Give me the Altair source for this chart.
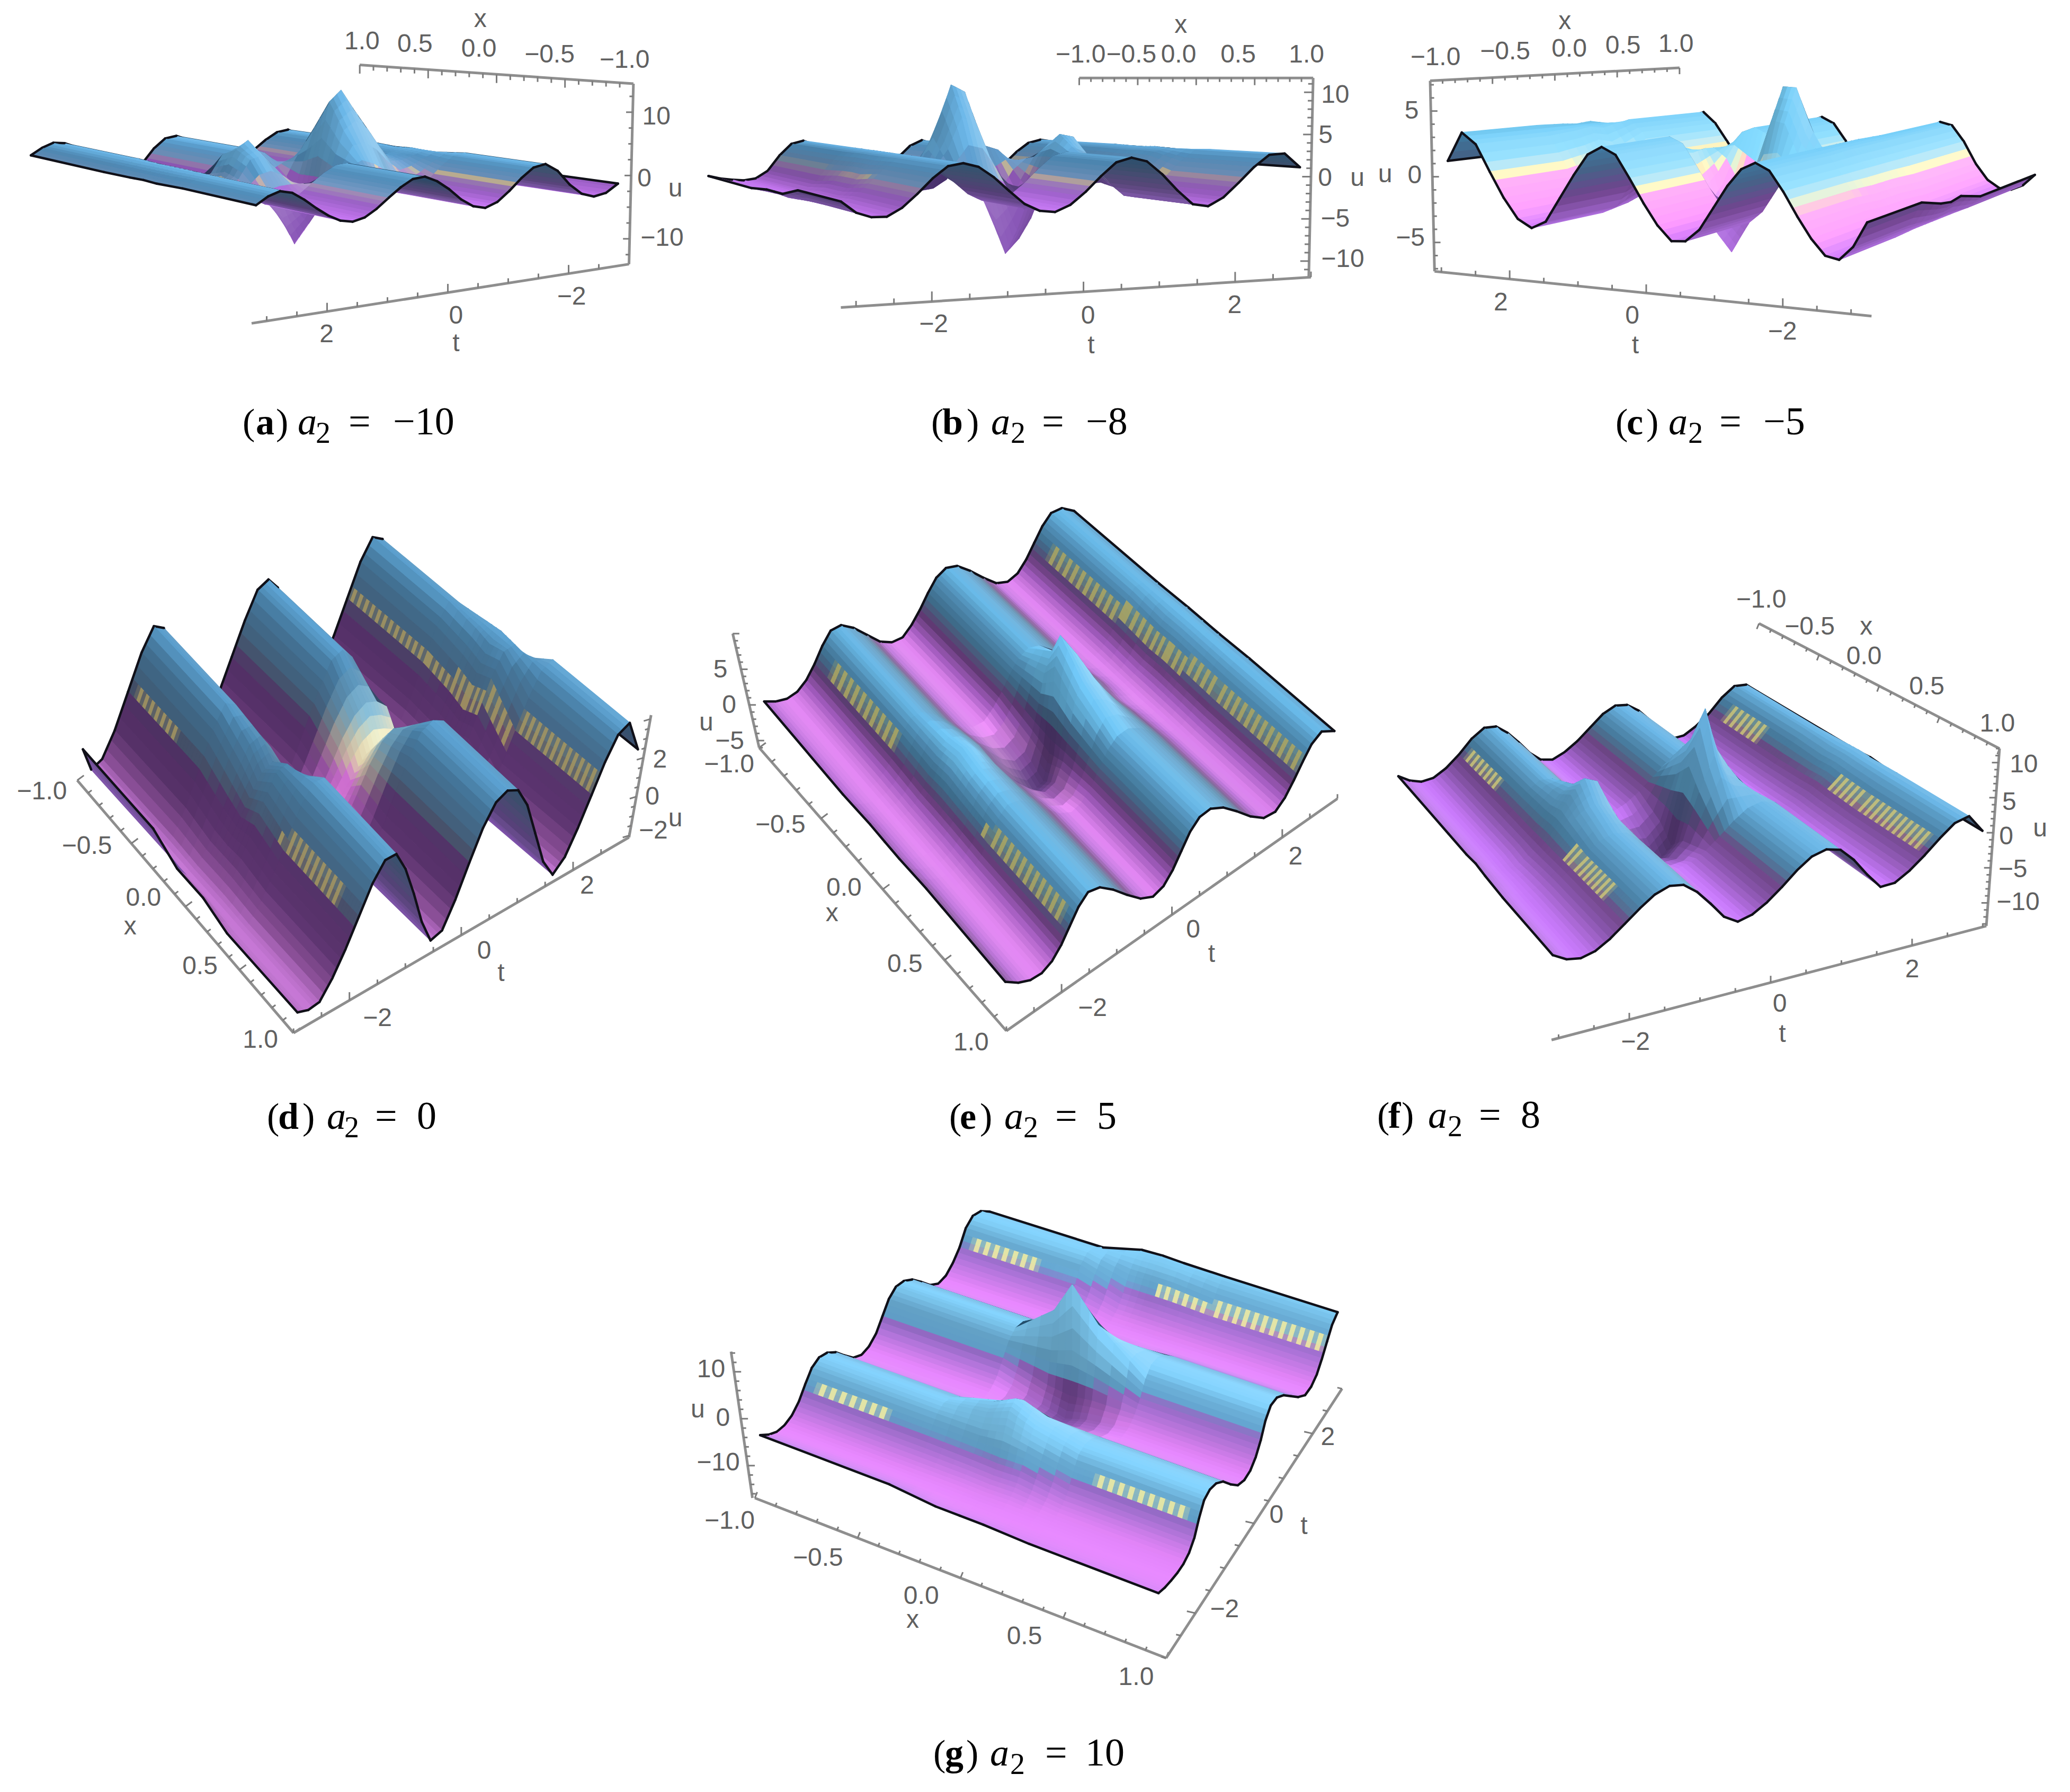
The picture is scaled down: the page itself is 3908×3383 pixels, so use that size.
import math

import altair as alt
import pandas as pd

# surface heights u(t), at t = -3.0, -2.8 ... 3.0
T = [round(-3 + 0.2 * i, 1) for i in range(31)]

a_neg = [-1.5,-2.9,-3.3,-2.6,-.8,1.8,3.2,2.8,1.2,-.8,-2.5,-3.3,-2.8,-1.4,.6,2.2,3.2,3,1.8,.2,-1.5,-2.8,-3.3,-2.9,-1.8,-.3,1.4,2.8,3.3,2.6,1.3]
a_mid = [-1.3,-2.6,-3.2,-2.8,-1.4,.6,2.6,3,2.4,1.6,1.6,4.6,8,9.6,8,1.6,-5.6,-8.6,-6,-1.2,2.4,4.6,4,.6,-1,-.2,1.4,2.9,3.3,2.4,1.1]
a_zero = [-1.2,-2.5,-3.2,-2.9,-1.6,.6,2.6,3.2,2.6,2.4,2.8,6,11.5,15,13,3,-8,-13,-8,-1,4.5,7,5.5,1.5,-.8,-.3,1.4,2.9,3.3,2.4,1.2]
a_pos = [-1,-2.2,-3,-3.2,-2.5,-.6,2,3.3,2.9,1.5,-.3,-2,-3.2,-2.9,-1.5,.6,2.4,3.3,2.9,1,-1.8,-3.2,-3,-2,-.6,.8,2.2,3.1,3.3,2.4,1]

b_neg = [-2.4,-2.8,-3,-3.1,-2.8,-1.6,.8,2.6,3.1,2.4,1,-.8,-2.4,-3.1,-2.8,-1.6,.4,2.2,3.1,2.5,.8,-1.2,-2.8,-3.1,-2.2,-.6,1.2,2.6,3.1,2.8,1.6]
b_mid = [-2,-2.7,-3,-3,-2.4,-1,1,2.7,3.1,2.5,1.2,.8,3.4,7.6,7,2.4,-3,-7.4,-6,-1.4,1.8,3.4,2.6,-.4,-2,-1.1,1,2.5,3,2.8,1.4]
b_zero = [-2,-2.8,-3.1,-3,-2.4,-1,1.1,2.7,3.1,2.4,1.5,1.5,6.5,12,11,5,-4,-11,-9,-3,2,5,4.6,1.5,-1.6,-.8,1.2,2.6,3.1,2.8,1.5]
b_pos = [-1,-2.4,-3,-3,-2,-.4,1.4,2.8,3.1,2.6,1.3,-.4,-2,-2.9,-3.1,-2.3,-.8,1,2.6,3.1,2.6,1,-1,-2.7,-3,-2,-.3,1.5,2.9,3,1.3]

c_neg = [-.3,-2.3,-3.4,-3.2,-2,-.4,1.4,2.9,3.4,2.8,1.4,-.4,-2.2,-3.2,-3.3,-2.2,-.6,1.2,2.9,3.4,2.7,1,-.9,-2.8,-3.4,-2.8,-1.3,.6,2.6,3.4,1.1]
c_mid = [-1,-2.5,-3.3,-3.2,-2.2,-.6,1.4,3,3.4,2.7,1.6,2.2,4.8,5,1.6,-1.4,-3.6,-5,-3.8,-.4,1.6,1.2,0,-1.8,-3,-2.4,-.8,1,2.8,3.3,1.2]
c_zero = [-1.2,-2.6,-3.3,-3.2,-2.2,-.6,1.4,3,3.4,2.8,2.2,4.8,7.8,7.8,4,-1,-5,-7,-5.6,-1.5,1.4,2,1.2,-1,-2.6,-2,-.4,1.4,3,3.2,1.3]
c_pos = [-1.7,-2.8,-3.3,-3.2,-2.4,-.8,1.4,3,3.3,2.5,1,-1,-2.9,-3.3,-2.6,-1,1,2.7,3.3,2.8,1.4,-.6,-2.4,-3.3,-2.8,-1.4,.4,2.2,3.3,2.8,1.4]

d_neg = [-1.8,-3,-2.7,-1.5,.2,1.9,3,2.7,1.4,-.2,-1.9,-2.9,-2.9,-1.8,-.2,1.4,2.7,3,2.4,.9,-.8,-2.4,-3,-2.5,-1.2,.4,2,3,2.7,1.4,-.2]
d_mid = [-2.4,-3,-2.8,-1.8,-.4,1.1,2.3,2.5,1.7,.2,-1.5,-2.7,-2.9,-2.2,-1,.3,1.2,1.6,1.4,.9,-.8,-2.4,-3,-2.6,-1.4,.1,1.7,2.8,2.9,2,.5]
d_zero = [-2.4,-3,-2.8,-1.8,-.6,.6,1.6,1.9,1.4,.2,-1.2,-2.4,-2.7,-2.4,-1.6,-.8,-.1,.2,0,-.2,-1,-2.4,-3,-2.6,-1.6,-.2,1.4,2.6,3,2.2,.6]
d_pos = [-2.8,-3,-2.9,-2,-.8,.6,2,2.9,2.9,1.8,.2,-1.6,-2.9,-2.7,-1.4,.2,1.7,2.7,3,2.7,1.6,-.2,-2,-3,-2.4,-1.2,.2,1.6,2.7,3,1.3]

e_neg = [-1.8,-2.6,-3,-2.8,-1.9,-.4,1.4,2.8,2.8,1.6,-.2,-2,-2.9,-3,-2,-.6,1,2.4,3,2.5,1,-.8,-2.4,-3,-2.6,-1.4,.2,1.8,2.9,2.8,1.6]
e_mid = [-1.4,-2.4,-3,-2.9,-2.2,-.9,1,2.8,3.6,2.8,1,-1.2,-3.2,-4.4,-4,-2,1,4.4,6.6,5,2.2,0,-1.8,-2.9,-2.8,-1.8,-.4,1.2,2.5,3,1.8]
e_zero = [-1.4,-2.4,-3,-2.9,-2.2,-.8,1.4,3.4,4.4,3.4,1,-2,-4.6,-6.4,-6,-3,2,7.5,11,7.4,3,-.4,-2.2,-3,-2.8,-1.7,-.2,1.4,2.6,3,1.8]
e_pos = [-1,-2.2,-2.9,-3,-2.4,-1.2,.4,2,3,2.6,1.2,-.6,-2.2,-3,-2.6,-1.4,.2,1.8,2.8,2.9,2,.4,-1.4,-2.7,-2.9,-2,-.6,.9,2.3,3,2]

f_neg = [-2,-3,-3.5,-3.2,-2,-.2,2,3.4,3.3,2,.2,-1.8,-3.2,-3.5,-2.6,-1.2,.6,2.4,3.4,3.2,2,.2,-1.9,-3.4,-3.2,-2,-.4,1.8,3.3,3.2,1.8]
f_mid = [-2,-3,-3.5,-3.2,-2,-.3,2.1,4.1,5.2,4.4,2,-1,-3.2,-4.8,-5,-3,3.6,8.4,5.4,4.2,2.4,.2,-2,-3.5,-3.1,-1.9,-.2,1.6,3.1,3.4,1.8]
f_zero = [-1.8,-3,-3.6,-3.4,-2.2,-.2,2.4,5.4,7.4,6.6,3,-.8,-3.6,-6,-7,-5,6,14,8,5,2,-.8,-2.8,-3.6,-3,-1.8,0,1.8,3.2,3.5,2]
f_pos = [-2.2,-3.2,-3.5,-3,-1.8,-.2,1.4,2.8,3.5,3.2,1.8,-.2,-2.4,-3.5,-3,-1.8,-.2,1.6,3,3.5,3,1.2,-1.2,-3.3,-3.2,-2,-.4,1.4,3,3.5,1.1]

g_neg = [-1,-2.4,-3.3,-3.4,-2.8,-1.4,.8,2.8,3.5,3,1.6,-.6,-2.6,-3.5,-3.2,-2,.2,2.4,3.5,3.2,2,0,-2.2,-3.4,-3.2,-2,-.2,2.4,3.5,3,1.4]
g_mid = [-2,-3,-3.4,-3.4,-2.8,-1.6,.6,3,5,5.6,4.2,1.8,-1,-3.2,-4.6,-4.8,-2.4,3.4,10.4,7.4,4.4,1.8,-.8,-2.6,-3.4,-3.5,-2.6,-.8,1.6,3.3,3.6]
g_zero = [-2,-3,-3.4,-3.5,-3,-1.8,.4,4,7,8,6,2.4,-1,-3.6,-5.6,-6.2,-3,5,17.5,11,5.4,2,-.6,-2.4,-3.4,-3.5,-2.6,-.8,1.6,3.4,3.8]
g_pos = [-2.4,-3,-3.3,-3.5,-3.4,-2.8,-1.4,1,3,3.5,3,1.6,-.8,-2.8,-3.5,-3.3,-2.2,-.4,2,3.4,3.3,2,0,-2,-3.4,-3.4,-2.6,-1,.8,2.6,3.5]

X_ROWS = [-1, -0.35, -0.12, 0, 0.12, 0.35, 1]

# colour ramps over normalised height (trough 0 .. crest 1): front and underside
DARK_BACK = [(0, "#8a58b8"), (.35, "#46306a"), (.7, "#2c3f60"), (1, "#24506e")]
BRIGHT_BACK = [(0, "#b070e0"), (.35, "#7a4a9a"), (.7, "#4a6a92"), (1, "#3f7ca4")]
RAMP_A = [(0, "#c878f4"), (.3, "#a868d8"), (.49, "#b098c8"), (.53, "#d8c8a8"), (.57, "#80a8d8"), (.85, "#5a9ed0"), (1, "#6cb8ea")]
RAMP_C = [(0, "#d880ff"), (.15, "#ff96ff"), (.47, "#ffa4f8"), (.51, "#fff0b0"), (.55, "#fffac0"), (.61, "#b8e8f4"), (.75, "#84dcff"), (1, "#78d0fa")]
RAMP_D = [(0, "#e48cf4"), (.12, "#9a58a8"), (.3, "#6a3c80"), (.48, "#643a7c"), (.56, "#55607e"), (.66, "#4e7496"), (.85, "#4c84ac"), (1, "#66b4e8")]
RAMP_D_CENTRE = [(0, "#ff90ff"), (.35, "#f080f0"), (.45, "#fff0c0"), (.55, "#fffbd0"), (.7, "#a0e0f8"), (1, "#80d0f8")]
RAMP_E = [(0, "#f494ff"), (.18, "#b868d8"), (.38, "#724488"), (.5, "#5c6a94"), (.62, "#4c86ac"), (.85, "#5ea6d4"), (1, "#70c8f8")]
RAMP_E_CENTRE = [(0, "#5c3a78"), (.5, "#5a3f80"), (.62, "#4c6a90"), (1, "#5aa0d0")]
RAMP_F = [(0, "#cc7cff"), (.3, "#9c62c4"), (.48, "#8a58a8"), (.56, "#6a84b0"), (.72, "#5a9cc8"), (1, "#6cb8e8")]
RAMP_F_CENTRE = [(0, "#5e3e80"), (.5, "#64448a"), (.62, "#4c7098"), (1, "#62acd8")]
RAMP_G = [(0, "#e888ff"), (.3, "#c080f0"), (.48, "#a87ae0"), (.58, "#70b8e8"), (.82, "#74bde8"), (1, "#84d4ff")]
RAMP_G_CENTRE = [(0, "#7a4a9c"), (.5, "#7c50a4"), (.62, "#4c7c9e"), (1, "#6cbce4")]

# zoom factors and crop origins used to read each panel, corners at u = 0 as
# (x=-1,t=-3), (x=-1,t=3), (x=1,t=-3), (x=1,t=3); px per unit of u on x=-1 and x=1
# bands: (t from, t to, x from, x to) where the yellow comb pattern shows
PANELS = [
    dict(rows=(a_neg, a_mid, a_zero, a_pos), view=(1.2, 1.835, 0, 0),
         corners=[(1400, 606), (580, 737), (830, 490), (70, 555)], k=(20, 17), lean=0,
         far_x=1, far_t=-3, ramp=RAMP_A, back=DARK_BACK, pit=False, bands=[], band_colour="#f0e090", band_h=(.53, .64)),
    dict(rows=(b_neg, b_mid, b_zero, b_pos), view=(1.2, 1.835, 1300, 0),
         corners=[(45, 557), (850, 552), (345, 669), (1385, 617)], k=(22, 29), lean=0,
         far_x=-1, far_t=3, ramp=RAMP_A, back=DARK_BACK, pit=False, bands=[], band_colour="#f0e090", band_h=(.53, .64)),
    dict(rows=(c_neg, c_mid, c_zero, c_pos), view=(1.2, 1.835, 2600, 0),
         corners=[(1110, 757), (160, 607), (1490, 548), (686, 497)], k=(45, 34), lean=0,
         far_x=1, far_t=3, ramp=RAMP_C, back=BRIGHT_BACK, pit=False, bands=[], band_colour="#fff0b0", band_h=(.53, .64)),
    dict(rows=(d_neg, d_mid, d_zero, d_pos), view=(1.2, 1.3, 0, 950),
         corners=[(195, 514), (903, 202), (685, 1118), (1440, 665)], k=(50, 47), lean=4,
         far_x=-1, far_t=3, ramp=RAMP_D, back=DARK_BACK, pit=False, centre=RAMP_D_CENTRE, centre_t=(-1.1, 1.1),
         bands=[(-2.7, -1.4, -.95, -.55), (-2.7, -1.4, .3, .85), (1.5, 2.8, -1, 1)], band_colour="#a89860", band_h=(.53, .64)),
    dict(rows=(e_neg, e_mid, e_zero, e_pos), view=(1.2, 1.3, 1300, 950),
         corners=[(165, 456), (879, 46), (714, 1157), (1470, 594)], k=(17, 17.5), lean=-3.5,
         far_x=-1, far_t=3, ramp=RAMP_E, back=DARK_BACK, pit=True, centre=RAMP_E_CENTRE, centre_t=(-.9, .3),
         bands=[(-2.6, -1.3, -.9, -.35), (-2.6, -1.3, .3, .95), (1.6, 2.9, -.9, 1)], band_colour="#b0a860", band_h=(.48, .72)),
    dict(rows=(f_neg, f_mid, f_zero, f_pos), view=(1.2, 1.418, 2600, 1050),
         corners=[(50, 555), (860, 393), (400, 1024), (1370, 757)], k=(17, 20), lean=1,
         far_x=-1, far_t=3, ramp=RAMP_F, back=DARK_BACK, pit=True, centre=RAMP_F_CENTRE, centre_t=(-.7, .2),
         bands=[(-2.6, -1.3, -.95, -.55), (-2.6, -1.3, .25, .75), (1.6, 2.8, -.9, -.55), (1.6, 2.8, .1, .95)], band_colour="#d0c878", band_h=(.48, .72)),
    dict(rows=(g_neg, g_mid, g_zero, g_pos), view=(1.114, 1.357, 1250, 2220),
         corners=[(205, 652), (690, 108), (1041, 1040), (1425, 391)], k=(12, 12), lean=-1.2,
         far_x=-1, far_t=3, ramp=RAMP_G, back=DARK_BACK, pit=True, centre=RAMP_G_CENTRE, centre_t=(-.7, .3),
         bands=[(-2.6, -1.2, -.95, -.55), (-2.6, -1.2, .45, .95), (1.7, 3, -.95, -.55), (1.7, 3, .05, 1)], band_colour="#f8f0a0", band_h=(.48, .72)),
]

# axis lines: (start, end, value at start, value at end, major, minor, tick vector)
AXES = [
    [((1435, 290), (815, 225), -1, 1, .5, .1, (0, 30)),
     ((570, 1120), (1425, 915), 3.25, -3, 2, .5, (0, -30)),
     ((1425, 915), (1435, 290), -14, 14.5, 10, 2.5, (-15, 0))],
    [((885, 270), (1415, 270), -1, 1, .5, .1, (0, 25)),
     ((345, 1065), (1410, 960), -3.2, 3, 2, .5, (0, -35)),
     ((1405, 960), (1415, 270), -11.9, 11.7, 5, 1, (-20, 0))],
    [((120, 280), (685, 235), -1, 1, .5, .1, (0, 22)),
     ((130, 940), (1120, 1095), 3.1, -3.3, 2, .5, (0, -30)),
     ((130, 940), (120, 280), -7.2, 7.3, 5, 1, (15, 0))],
    [((175, 680), (665, 1300), -1, 1, .5, .1, (15, -12)),
     ((665, 1300), (1425, 820), -3, 3, 2, .5, (0, -20)),
     ((1425, 820), (1475, 520), -2.1, 4.2, 2, .5, (-15, 5))],
    [((160, 600), (720, 1295), -1, 1, .5, .1, (15, -12)),
     ((720, 1295), (1470, 725), -3, 3, 2, .5, (0, -20)),
     ((160, 600), (100, 320), -6, 10, 5, 1, (15, 0))],
    [((865, 180), (1410, 515), -1, 1, .5, .1, (-5, 15)),
     ((395, 1295), (1380, 990), -3.1, 3.05, 2, .5, (0, -18)),
     ((1380, 990), (1410, 515), -13.3, 12, 5, 1, (-15, 0))],
    [((195, 825), (1060, 1235), -1, 1, .5, .1, (5, -15)),
     ((1060, 1235), (1430, 545), -3, 3, 2, .5, (-18, -5)),
     ((190, 825), (145, 450), -16.9, 14.3, 10, 2, (15, 0))],
]

LABELS = [
    [("1.0", 820, 145), ("0.5", 940, 155), ("0.0", 1085, 170), ("−0.5", 1245, 190), ("−1.0", 1415, 210), ("x", 1088, 68),
     ("2", 740, 1160), ("0", 1033, 1095), ("−2", 1295, 1030), ("t", 1033, 1190),
     ("10", 1487, 405), ("0", 1460, 620), ("−10", 1500, 825), ("u", 1530, 655)],
    [("−1.0", 888, 190), ("−0.5", 1003, 190), ("0.0", 1110, 190), ("0.5", 1245, 190), ("1.0", 1400, 190), ("x", 1115, 88),
     ("−2", 555, 1125), ("0", 905, 1095), ("2", 1237, 1058), ("t", 912, 1198),
     ("10", 1465, 330), ("5", 1443, 470), ("0", 1442, 618), ("−5", 1465, 760), ("−10", 1482, 900), ("u", 1515, 618)],
    [("−1.0", 132, 200), ("−0.5", 290, 180), ("0.0", 435, 170), ("0.5", 557, 160), ("1.0", 677, 155), ("x", 425, 75),
     ("2", 280, 1050), ("0", 578, 1095), ("−2", 918, 1150), ("t", 585, 1198),
     ("5", 78, 385), ("0", 85, 610), ("−5", 75, 825), ("u", 18, 605)],
    [("−1.0", 95, 708), ("−0.5", 197, 842), ("0.0", 325, 970), ("x", 295, 1040), ("0.5", 453, 1138), ("1.0", 590, 1318),
     ("−2", 855, 1265), ("0", 1097, 1100), ("t", 1135, 1155), ("2", 1330, 940),
     ("2", 1495, 630), ("0", 1478, 722), ("−2", 1480, 805), ("u", 1530, 775)],
    [("−1.0", 92, 642), ("−0.5", 208, 790), ("0.0", 352, 945), ("x", 325, 1008), ("0.5", 490, 1132), ("1.0", 640, 1325),
     ("−2", 915, 1240), ("0", 1143, 1048), ("t", 1185, 1108), ("2", 1375, 868),
     ("5", 72, 410), ("0", 92, 497), ("u", 40, 540), ("−5", 93, 585)],
    [("−1.0", 870, 118), ("−0.5", 980, 190), ("x", 1108, 190), ("0.0", 1103, 270), ("0.5", 1245, 350), ("1.0", 1405, 450),
     ("−2", 585, 1302), ("0", 912, 1200), ("t", 918, 1280), ("2", 1212, 1108),
     ("10", 1465, 558), ("5", 1432, 660), ("0", 1425, 752), ("u", 1502, 730), ("−5", 1440, 840), ("−10", 1452, 928)],
    [("−1.0", 142, 885), ("−0.5", 328, 980), ("0.0", 545, 1078), ("x", 527, 1138), ("0.5", 762, 1180), ("1.0", 997, 1285),
     ("−2", 1183, 1112), ("0", 1292, 870), ("t", 1350, 898), ("2", 1400, 670),
     ("10", 103, 497), ("u", 75, 600), ("0", 128, 622), ("−10", 118, 735)],
]

# caption pieces: letter, value, baseline and left edges of ( letter ) a 2 = value
CAPTIONS = [
    ("a", "−10", 820, (458, 483, 521, 562, 596, 658, 742)),
    ("b", "−8", 820, (1758, 1779, 1825, 1871, 1908, 1967, 2050)),
    ("c", "−5", 820, (3050, 3071, 3108, 3150, 3187, 3246, 3329)),
    ("d", "0", 2131, (504, 525, 571, 617, 650, 708, 787)),
    ("e", "5", 2131, (1792, 1812, 1850, 1896, 1932, 1992, 2071)),
    ("f", "8", 2129, (2600, 2621, 2646, 2696, 2733, 2792, 2871)),
    ("g", "10", 3333, (1762, 1784, 1824, 1869, 1907, 1973, 2049)),
]

SUB_T = 3
SUB_X = 3
COMB = .027


def to_rgb(h):
    return [int(h[i:i + 2], 16) for i in (1, 3, 5)]


def ramp_rgb(ramp, h):
    h = min(max(h, 0), 1)
    for (h0, c0), (h1, c1) in zip(ramp, ramp[1:]):
        if h <= h1:
            w = (h - h0) / (h1 - h0)
            return [a + (b - a) * w for a, b in zip(to_rgb(c0), to_rgb(c1))]
    return to_rgb(ramp[-1][1])


def mix(a, b, w):
    return [p + (q - p) * w for p, q in zip(a, b)]


def lit(rgb, light):
    if light > 0:
        return [v + (255 - v) * light for v in rgb]
    return [v * (1 + light) for v in rgb]


def to_hex(rgb):
    return "#%02x%02x%02x" % tuple(int(round(v)) for v in rgb)


def area2(p):
    return sum(p[i][0] * p[(i + 1) % 4][1] - p[(i + 1) % 4][0] * p[i][1] for i in range(4))


quad_rows, tick_rows, text_rows = [], [], []
shape_id = 0


def add_shape(points, colour, sw):
    global shape_id
    shape_id += 1
    for n, (px, py) in enumerate(points):
        quad_rows.append(dict(x=round(px, 1), y=round(py, 1), id=shape_id, n=n, c=colour, sw=sw))


for panel, axes, labels in zip(PANELS, AXES, LABELS):
    sx, sy, ox, oy = panel["view"]
    c00, c01, c10, c11 = panel["corners"]
    neg, mid, zero, pos = panel["rows"]
    by_row = [neg, neg, mid, zero, mid, pos, pos]
    ni, nj = len(X_ROWS), len(T)

    def base(x, t):
        a, b = (x + 1) / 2, (t + 3) / 6
        px = (1 - a) * ((1 - b) * c00[0] + b * c01[0]) + a * ((1 - b) * c10[0] + b * c11[0])
        py = (1 - a) * ((1 - b) * c00[1] + b * c01[1]) + a * ((1 - b) * c10[1] + b * c11[1])
        return px, py

    def project(i, j):
        x, t = X_ROWS[i], T[j]
        u = by_row[i][j]
        px, py = base(x, t)
        k = panel["k"][0] + (panel["k"][1] - panel["k"][0]) * (x + 1) / 2
        return (px + panel["lean"] * u) / sx + ox, (py - k * u) / sy + oy

    def plan(i, j):
        px, py = base(X_ROWS[i], T[j])
        return px / sx + ox, py / sy + oy

    # brighter on faces that drop towards the right of the picture
    cell_light = [[0.0] * (nj - 1) for _ in range(ni - 1)]
    for i in range(ni - 1):
        for j in range(nj - 1):
            flat = [plan(i, j), plan(i, j + 1), plan(i + 1, j + 1), plan(i + 1, j)]
            du_t = (by_row[i][j + 1] + by_row[i + 1][j + 1] - by_row[i][j] - by_row[i + 1][j]) / 2
            du_x = (by_row[i + 1][j] + by_row[i + 1][j + 1] - by_row[i][j] - by_row[i][j + 1]) / 2
            ax, bx = flat[1][0] - flat[0][0], flat[3][0] - flat[0][0]
            ay, by = flat[1][1] - flat[0][1], flat[3][1] - flat[0][1]
            det = ax * by - bx * ay
            grad_x = (du_t * by - du_x * ay) / det if det else 0
            cell_light[i][j] = max(min(-grad_x * 3.5, .3), -.3)

    def vertex_light(i, j):
        near = [cell_light[a][b] for a in (i - 1, i) for b in (j - 1, j) if 0 <= a < ni - 1 and 0 <= b < nj - 1]
        return sum(near) / len(near)

    irange = list(range(ni - 1))
    jrange = list(range(nj - 1))
    if panel["far_x"] == 1:
        irange.reverse()
    if panel["far_t"] == 3:
        jrange.reverse()

    for i in irange:
        for j in jrange:
            p00, p01, p11, p10 = project(i, j), project(i, j + 1), project(i + 1, j + 1), project(i + 1, j)
            flat = [plan(i, j), plan(i, j + 1), plan(i + 1, j + 1), plan(i + 1, j)]
            front = area2([p00, p01, p11, p10]) * area2(flat) > 0
            u00, u01, u11, u10 = by_row[i][j], by_row[i][j + 1], by_row[i + 1][j + 1], by_row[i + 1][j]
            l00, l01, l11, l10 = vertex_light(i, j), vertex_light(i, j + 1), vertex_light(i + 1, j + 1), vertex_light(i + 1, j)
            x0, x1, t0, t1 = X_ROWS[i], X_ROWS[i + 1], T[j], T[j + 1]

            def point(a, b):
                return ((1 - a) * ((1 - b) * p00[0] + b * p01[0]) + a * ((1 - b) * p10[0] + b * p11[0]),
                        (1 - a) * ((1 - b) * p00[1] + b * p01[1]) + a * ((1 - b) * p10[1] + b * p11[1]))

            def blend(a, b, v00, v01, v11, v10):
                return (1 - a) * ((1 - b) * v00 + b * v01) + a * ((1 - b) * v10 + b * v11)

            steps_t = list(range(SUB_T))
            if panel["far_t"] == 3:
                steps_t.reverse()
            for st in steps_t:
                b0, b1 = st / SUB_T, (st + 1) / SUB_T
                bm = (b0 + b1) / 2
                tm = t0 + (t1 - t0) * bm
                um = (blend(0, bm, u00, u01, u11, u10) + blend(1, bm, u00, u01, u11, u10)) / 2
                nx = 1 if abs(x0) >= .35 and abs(x1) >= .35 else SUB_X
                in_level = front and panel["band_h"][0] <= (um + 3.3) / 6.6 <= panel["band_h"][1]
                hit = in_level and any(b[0] <= tm <= b[1] and b[2] < x1 and b[3] > x0 for b in panel["bands"])
                if hit:
                    nx = max(nx, math.ceil((x1 - x0) / COMB))
                steps_x = list(range(nx))
                if panel["far_x"] == 1:
                    steps_x.reverse()
                for s in steps_x:
                    a0, a1 = s / nx, (s + 1) / nx
                    am = (a0 + a1) / 2
                    xm = x0 + (x1 - x0) * am
                    u = blend(am, bm, u00, u01, u11, u10)
                    light = blend(am, bm, l00, l01, l11, l10)
                    h = (u + 3.3) / 6.6
                    if panel["pit"] and u < -3.3:
                        h = min((-3.3 - u) * .1, .32)
                    rgb = ramp_rgb(panel["ramp"] if front else panel["back"], h)
                    if front and "centre" in panel and panel["centre_t"][0] <= tm <= panel["centre_t"][1]:
                        rgb = mix(rgb, ramp_rgb(panel["centre"], h), max(0, 1 - abs(xm) / .3))
                    rgb = lit(rgb, light if front else light / 2)
                    if hit and any(b[0] <= tm <= b[1] and b[2] <= xm <= b[3] for b in panel["bands"]):
                        comb = int(round((xm + 1) / COMB)) % 2
                        rgb = mix(rgb, to_rgb(panel["band_colour"]), .85 if comb else .25)
                    colour = to_hex(rgb)
                    add_shape([point(a0, b0), point(a0, b1), point(a1, b1), point(a1, b0)], colour, 1.5)
            # boundary of the surface, drawn in painter order so later cells can hide it
            if i == 0 or i == ni - 2:
                row = 0 if i == 0 else ni - 1
                add_shape([project(row, j), project(row, j + 1)], "#101018", 4.5)
            if j == 0 or j == nj - 2:
                col = 0 if j == 0 else nj - 1
                add_shape([project(i, col), project(i + 1, col)], "#101018", 4.5)

    for p0, p1, v0, v1, major, minor, tick in axes:
        tick_rows.append(dict(x=p0[0] / sx + ox, y=p0[1] / sy + oy, x2=p1[0] / sx + ox, y2=p1[1] / sy + oy,
                              c="#8e8e8e", w=5))
        lo, hi = min(v0, v1), max(v0, v1)
        n = int(lo / minor) - 1
        while n * minor <= hi:
            v = n * minor
            n += 1
            if v < lo or v > hi:
                continue
            w = (v - v0) / (v1 - v0)
            px, py = p0[0] + (p1[0] - p0[0]) * w, p0[1] + (p1[1] - p0[1]) * w
            is_major = abs(v / major - round(v / major)) < 1e-6
            f = 1 if is_major else .55
            tick_rows.append(dict(x=px / sx + ox, y=py / sy + oy, x2=(px + tick[0] * f) / sx + ox,
                                  y2=(py + tick[1] * f) / sy + oy, c="#7c7c7c", w=3))
    for text, lx, ly in labels:
        text_rows.append(dict(x=lx / sx + ox, y=ly / sy + oy, text=text))

plain, bold, ital, sub, big = [], [], [], [], []
for letter, value, base_y, (p0, p1, p2, p3, p4, p5, p6) in CAPTIONS:
    plain += [dict(x=p0, y=base_y, text="("), dict(x=p2, y=base_y, text=")")]
    bold.append(dict(x=p1, y=base_y, text=letter))
    ital.append(dict(x=p3, y=base_y, text="a"))
    sub.append(dict(x=p4, y=base_y + 16, text="2"))
    big += [dict(x=p5, y=base_y, text="="), dict(x=p6, y=base_y, text=value)]

x_enc = alt.X("x:Q", scale=alt.Scale(domain=[8, 3900], nice=False, zero=False), axis=None)
y_enc = alt.Y("y:Q", scale=alt.Scale(domain=[3375, 8], nice=False, zero=False), axis=None)

ticks = alt.Chart(pd.DataFrame(tick_rows)).mark_rule().encode(
    x=x_enc, y=y_enc, x2="x2:Q", y2="y2:Q",
    color=alt.Color("c:N", scale=None, legend=None),
    strokeWidth=alt.StrokeWidth("w:Q", scale=None, legend=None),
)

surface = alt.Chart(pd.DataFrame(quad_rows)).mark_line(strokeJoin="round", strokeCap="round").encode(
    x=x_enc, y=y_enc,
    detail="id:N",
    order=alt.Order("n:Q"),
    color=alt.Color("c:N", scale=None, legend=None),
    fill=alt.Fill("c:N", scale=None, legend=None),
    strokeWidth=alt.StrokeWidth("sw:Q", scale=None, legend=None),
)

tick_text = alt.Chart(pd.DataFrame(text_rows)).mark_text(
    font="Liberation Sans", fontSize=48, color="#606060", align="center", baseline="middle"
).encode(x=x_enc, y=y_enc, text="text:N")


def caption(rows, **kw):
    return alt.Chart(pd.DataFrame(rows)).mark_text(
        font="Liberation Serif", color="#000000", align="left", baseline="alphabetic", **kw
    ).encode(x=x_enc, y=y_enc, text="text:N")


chart = alt.layer(
    ticks,
    surface,
    tick_text,
    caption(plain, fontSize=70),
    caption(bold, fontSize=70, fontWeight="bold"),
    caption(ital, fontSize=72, fontStyle="italic"),
    caption(sub, fontSize=56),
    caption(big, fontSize=74),
).properties(
    width=3892,
    height=3367,
    padding=0,
    autosize=alt.AutoSizeParams(type="none"),
    background="white",
).configure_view(strokeWidth=0)

chart.save("out.html", embed_options={"renderer": "svg", "actions": False})
